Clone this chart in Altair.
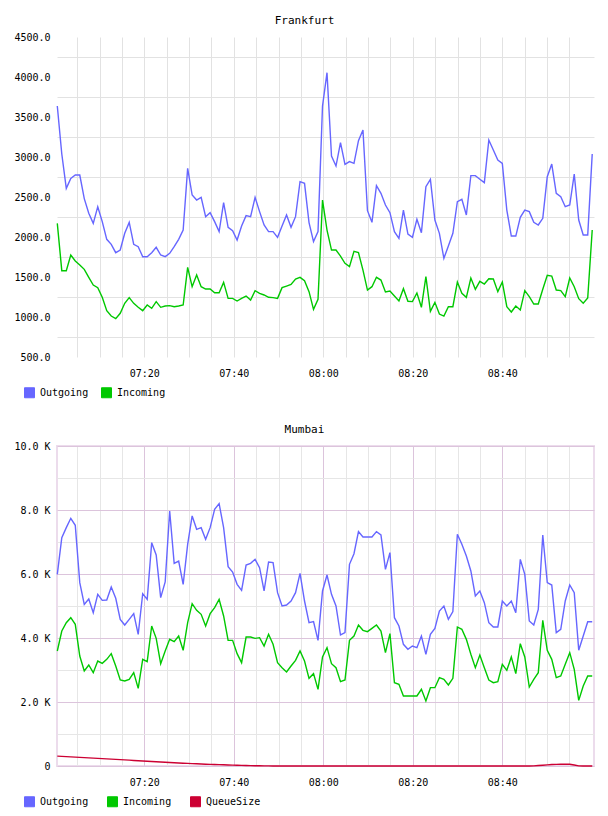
import altair as alt
import pandas as pd

# ---------------- data ----------------
fra_outgoing = [
    3637, 3037, 2608, 2733, 2775, 2775, 2480, 2296, 2171, 2379,
    2192, 1971, 1908, 1804, 1837, 2046, 2183, 1908, 1879, 1754,
    1754, 1804, 1871, 1775, 1754, 1796, 1879, 1971, 2087, 2858,
    2525, 2462, 2496, 2254, 2304, 2192, 2067, 2429, 2121, 2079,
    1962, 2137, 2267, 2254, 2496, 2317, 2150, 2067, 2067, 1996,
    2137, 2275, 2121, 2254, 2692, 2671, 2180, 1942, 2067, 3637,
    4054, 3012, 2887, 3179, 2908, 2942, 2921, 3204, 3337, 2329,
    2183, 2642, 2546, 2400, 2304, 2067, 1983, 2337, 2037, 1996,
    2221, 2054, 2629, 2721, 2212, 2046, 1733, 1887, 2046, 2442,
    2471, 2275, 2767, 2767, 2721, 2679, 3212, 3087, 2962, 2921,
    2337, 2012, 2012, 2246, 2337, 2317, 2183, 2150, 2233, 2754,
    2912, 2546, 2504, 2379, 2400, 2787, 2212, 2025, 2025, 3037,
]
fra_incoming = [
    2171, 1579, 1579, 1775, 1700, 1650, 1596, 1496, 1400, 1367,
    1246, 1079, 1012, 979, 1046, 1171, 1242, 1171, 1121, 1079,
    1150, 1108, 1192, 1121, 1137, 1142, 1129, 1137, 1150, 1621,
    1379, 1525, 1379, 1350, 1350, 1304, 1304, 1433, 1233, 1233,
    1200, 1233, 1262, 1212, 1329, 1296, 1275, 1246, 1242, 1233,
    1367, 1387, 1408, 1475, 1496, 1454, 1317, 1096, 1221, 2462,
    2087, 1837, 1837, 1762, 1671, 1629, 1821, 1804, 1587, 1337,
    1379, 1496, 1462, 1312, 1325, 1262, 1200, 1354, 1196, 1192,
    1300, 1121, 1504, 1071, 1183, 1037, 1012, 1129, 1129, 1437,
    1296, 1246, 1487, 1346, 1446, 1412, 1479, 1475, 1317, 1437,
    1129, 1062, 1137, 1087, 1329, 1254, 1162, 1162, 1346, 1521,
    1512, 1337, 1329, 1254, 1487, 1379, 1229, 1171, 1237, 2087,
]
mum_outgoing = [
    5990, 7135, 7448, 7740, 7521, 5729, 5052, 5220, 4792, 5365,
    5177, 5187, 5594, 5240, 4583, 4406, 4583, 4760, 4115, 5385,
    5208, 6979, 6594, 5260, 5750, 7969, 6333, 6406, 5677, 6927,
    7813, 7396, 7448, 7083, 7448, 8021, 8198, 7448, 6229, 6062,
    5677, 5490, 6281, 6333, 6458, 6198, 5469, 6375, 6354, 5417,
    5000, 5031, 5156, 5417, 6021, 5156, 4479, 4510, 3927, 5469,
    5969, 5365, 5000, 4094, 4167, 6302, 6635, 7323, 7156, 7156,
    7156, 7323, 7219, 6146, 6667, 4635, 4375, 3802, 3646, 3750,
    3698, 4063, 3490, 4115, 4302, 4844, 5000, 4583, 4823, 7240,
    6927, 6563, 6094, 5313, 5469, 5104, 4479, 4344, 4344, 5156,
    5000, 5156, 4792, 6458, 5990, 4531, 4406, 4896, 7219, 5729,
    5656, 4167, 4271, 5156, 5656, 5417, 3615, 4063, 4510, 4510,
]
mum_incoming = [
    3594, 4219, 4479, 4635, 4427, 3438, 2969, 3156, 2917, 3281,
    3208, 3333, 3510, 3125, 2688, 2656, 2708, 2917, 2427, 3333,
    3260, 4375, 3990, 3198, 3594, 3958, 3885, 4063, 3615, 4479,
    5073, 4865, 4740, 4375, 4760, 4948, 5208, 4688, 3927, 3927,
    3510, 3229, 4031, 4031, 3990, 4010, 3750, 4115, 3802, 3229,
    3073, 2938, 3125, 3302, 3594, 3281, 2740, 2885, 2396, 3406,
    3698, 3198, 3073, 2635, 2688, 3927, 4063, 4406, 4240, 4198,
    4302, 4406, 4219, 3542, 4135, 2604, 2552, 2188, 2188, 2188,
    2188, 2396, 2031, 2448, 2448, 2760, 2708, 2531, 2740, 4344,
    4271, 3958, 3490, 3073, 3469, 3073, 2688, 2604, 2635, 3177,
    2990, 3406, 2885, 3823, 3406, 2469, 2708, 2917, 4552, 3615,
    3333, 2760, 2813, 3177, 3542, 3021, 2052, 2500, 2813, 2813,
]
mum_queue = [
    310, 302, 294, 286, 278, 270, 262, 254, 246, 238,
    230, 222, 214, 206, 198, 190, 182, 174, 166, 158,
    150, 142, 134, 126, 118, 110, 102, 95, 88, 81,
    75, 69, 63, 57, 52, 47, 42, 37, 32, 28,
    24, 20, 16, 12, 9, 6, 4, 3, 2, 1,
    0, 0, 0, 0, 0, 0, 0, 0, 0, 0,
    0, 0, 0, 0, 0, 0, 0, 0, 0, 0,
    0, 0, 0, 0, 0, 0, 0, 0, 0, 0,
    0, 0, 0, 0, 0, 0, 0, 0, 0, 0,
    0, 0, 0, 0, 0, 0, 0, 0, 0, 0,
    0, 0, 0, 0, 0, 0, 5, 15, 25, 35,
    45, 50, 55, 60, 55, 30, 5, 0, 0, 0,
]
# sample times: minutes after 07:00 (one sample per ~minute, starting 07:00:34)
start_min = 34 / 60
step_min = 60.27 / 60
times = [start_min + step_min * i for i in range(len(fra_outgoing))]

x_tick_minutes = list(range(5, 120, 5))      # 07:05 ... 08:55
fra_y_values = list(range(500, 4501, 250))
mum_y_values = list(range(0, 10001, 1000))

BLUE, GREEN, RED = "#6666ff", "#00c800", "#cc0033"
FONT = "DejaVu Sans Mono"


def long_df(series):
    rows = []
    for name, vals in series:
        for t, v in zip(times, vals):
            rows.append({"t": t, "v": v, "series": name})
    return pd.DataFrame(rows)


fra_df = long_df([("Outgoing", fra_outgoing), ("Incoming", fra_incoming)])
mum_df = long_df([("Outgoing", mum_outgoing), ("Incoming", mum_incoming),
                  ("QueueSize", mum_queue)])

x_label_expr = ("datum.value % 20 == 0 ? '0' + (7 + floor(datum.value / 60)) + ':' + "
                "(datum.value % 60 == 0 ? '00' : '' + (datum.value % 60)) : ''")


def make_panel(df, title, names, colors, ydomain, yvalues, ylabel_expr,
               ygrid_color, ygrid_opacity, xgrid_color, view_stroke, view_sw):
    x = alt.X("t:Q",
              scale=alt.Scale(domain=[0.5, 120.5], nice=False, zero=False),
              axis=alt.Axis(values=x_tick_minutes, labelExpr=x_label_expr,
                            grid=True, gridColor=xgrid_color, ticks=False,
                            domain=False, title=None, labelFont=FONT,
                            labelFontSize=10, labelColor="#000",
                            labelPadding=11, labelFlush=False,
                            labelOverlap=False))
    y = alt.Y("v:Q",
              scale=alt.Scale(domain=ydomain, nice=False, zero=False),
              axis=alt.Axis(values=yvalues, labelExpr=ylabel_expr,
                            grid=True, gridColor=ygrid_color,
                            gridOpacity=ygrid_opacity, ticks=False,
                            domain=False, title=None, labelFont=FONT,
                            labelFontSize=10, labelColor="#000",
                            labelPadding=7, labelOverlap=False))
    lines = alt.Chart(df).mark_line(strokeWidth=1.4).encode(
        x=x, y=y,
        stroke=alt.Stroke("series:N", scale=alt.Scale(domain=names, range=colors),
                          legend=None),
    )
    keys = alt.Chart(df).mark_square(opacity=0, size=1).encode(
        x=x, y=y,
        fill=alt.Fill("series:N", scale=alt.Scale(domain=names, range=colors),
                      legend=alt.Legend(
                          orient="none", legendX=-33, legendY=350,
                          direction="horizontal", title=None,
                          symbolType="square", symbolSize=100,
                          symbolOpacity=1, symbolStrokeColor="#8c8c8c",
                          symbolStrokeWidth=1,
                          labelFont=FONT, labelFontSize=10,
                          labelColor="#000", labelOffset=5,
                          columnPadding=10, gridAlign="all")),
    )
    return alt.layer(keys, lines).properties(
        width=537, height=320,
        title=alt.TitleParams(title, font=FONT, fontSize=11,
                              fontWeight="normal", color="#000", offset=6,
                              frame="bounds", anchor="middle"),
        view=alt.ViewBackground(stroke=view_stroke, strokeWidth=view_sw),
    )


fra = make_panel(
    fra_df, "Frankfurt", ["Outgoing", "Incoming"], [BLUE, GREEN],
    [500, 4500], fra_y_values,
    "datum.value % 500 == 0 ? format(datum.value, '.1f') : ''",
    "#e2e2e2",
    {"condition": {"test": "datum.value % 500 == 0", "value": 0}, "value": 1},
    "#e2e2e2", "#ffffff", 0,
)

mum = make_panel(
    mum_df, "Mumbai", ["Outgoing", "Incoming", "QueueSize"], [BLUE, GREEN, RED],
    [0, 10000], mum_y_values,
    "datum.value == 0 ? '0' : datum.value % 2000 == 0 ? format(datum.value / 1000, '.1f') + ' K' : ''",
    {"condition": {"test": "datum.value % 2000 == 0", "value": "#dcc4dc"}, "value": "#e6e6e6"},
    1,
    {"condition": {"test": "datum.value % 20 == 0", "value": "#dcc4dc"}, "value": "#e6e6e6"},
    "#ecdcec", 2,
)

chart = alt.vconcat(fra, mum, spacing=23).resolve_scale(
    fill="independent", stroke="independent").resolve_legend(
    fill="independent").properties(
    padding={"left": 12, "top": 15, "right": 0, "bottom": 0},
    background="#ffffff",
)

chart.save("out.html", embed_options={"renderer": "svg", "actions": False})
